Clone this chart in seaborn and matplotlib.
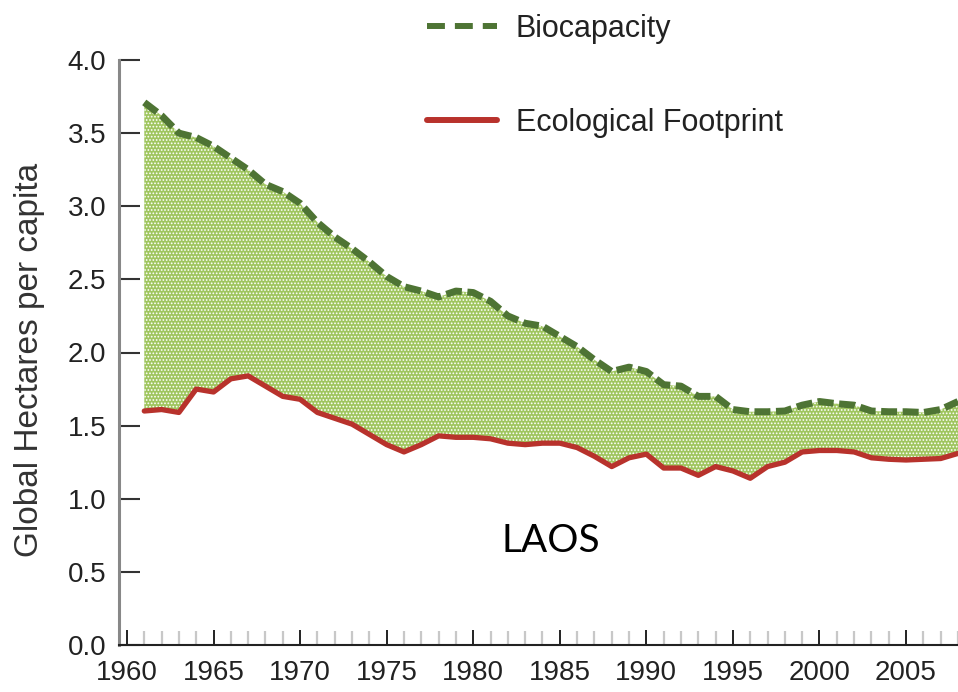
import numpy as np
import pandas as pd
import seaborn as sns
import matplotlib.pyplot as plt
from matplotlib.lines import Line2D

# values (global hectares per capita, Laos)
years = list(range(1961, 2009))
biocapacity = [3.71, 3.62, 3.50, 3.47, 3.41, 3.33, 3.25, 3.15, 3.10, 3.02,
               2.89, 2.79, 2.71, 2.62, 2.52, 2.45, 2.42, 2.38, 2.42, 2.41,
               2.35, 2.25, 2.20, 2.18, 2.11, 2.04, 1.95, 1.87, 1.90, 1.87,
               1.78, 1.77, 1.70, 1.70, 1.61, 1.595, 1.595, 1.60, 1.64, 1.665,
               1.65, 1.64, 1.60, 1.595, 1.595, 1.59, 1.61, 1.665]
footprint = [1.60, 1.61, 1.59, 1.75, 1.73, 1.82, 1.84, 1.77, 1.70, 1.68,
             1.59, 1.55, 1.51, 1.44, 1.37, 1.32, 1.37, 1.43, 1.42, 1.42,
             1.41, 1.38, 1.37, 1.38, 1.38, 1.35, 1.29, 1.22, 1.28, 1.305,
             1.21, 1.21, 1.16, 1.22, 1.19, 1.14, 1.22, 1.25, 1.32, 1.33,
             1.33, 1.32, 1.28, 1.27, 1.265, 1.27, 1.275, 1.31]
yticks = [0.0, 0.5, 1.0, 1.5, 2.0, 2.5, 3.0, 3.5, 4.0]
xticks = list(range(1960, 2006, 5))

green = '#4e7434'
red = '#b8322c'

sns.set_style("ticks")
plt.rcParams['font.family'] = ['Liberation Sans', 'DejaVu Sans']
plt.rcParams['hatch.linewidth'] = 0.8

df = pd.DataFrame({'year': years, 'bio': biocapacity, 'eco': footprint})

fig = plt.figure(figsize=(9.58, 6.92), dpi=100)
ax = fig.add_axes([119 / 958, 47 / 692, 1 - 119 / 958, 585 / 692])

# textured green band between the two series
ax.fill_between(df['year'], df['eco'], df['bio'], facecolor='#9fc55e',
                edgecolor='white', hatch='.....', linewidth=0, zorder=1)
sns.lineplot(data=df, x='year', y='eco', color=red, linewidth=3.8,
             solid_joinstyle='round', ax=ax, zorder=3)
sns.lineplot(data=df, x='year', y='bio', color=green, linewidth=5,
             linestyle=(0, (2.3, 0.8)), ax=ax, zorder=3)

ax.set_xlim(1959.54, 2008.0)
ax.set_ylim(0, 4.0)
ax.set_yticks(yticks)
ax.set_yticklabels([f'{v:.1f}' for v in yticks])
ax.set_xticks(xticks)
ax.set_xticks([y for y in range(1960, 2009) if y % 5], minor=True)

ax.tick_params(axis='y', direction='in', length=15, width=1.5, color='#333333',
               pad=9, labelsize=20, labelcolor='#222222')
ax.tick_params(axis='x', which='major', direction='in', length=11, width=1.3,
               color='#111111', pad=11, labelsize=20, labelcolor='#222222')
ax.tick_params(axis='x', which='minor', direction='in', length=10, width=1.6,
               color='#c8c8c8')

sns.despine(ax=ax)
ax.spines['left'].set_color('#888888')
ax.spines['left'].set_linewidth(2.2)
ax.spines['bottom'].set_color('#222222')
ax.spines['bottom'].set_linewidth(1.5)

ax.set_xlabel('')
ax.set_ylabel('Global Hectares per capita', fontsize=24, color='#333333')
ax.yaxis.set_label_coords(-0.088, 0.487)

ax.text(1984.47, 0.636, 'LAOS', fontsize=28, family=['Lato', 'DejaVu Sans'],
        ha='center', va='baseline', color='black')

handles = [Line2D([], [], color=green, lw=4.3, linestyle=(0, (3.0, 1.67))),
           Line2D([], [], color=red, lw=4.3)]
fig.legend(handles, ['Biocapacity', 'Ecological Footprint'], loc='upper left',
           bbox_to_anchor=(427 / 958, 1 - 14 / 692), frameon=False, fontsize=22,
           handlelength=2.29, handletextpad=0.62, labelspacing=2.1,
           borderpad=0, borderaxespad=0, labelcolor='#222222')

fig.savefig('out.png', dpi=100)
